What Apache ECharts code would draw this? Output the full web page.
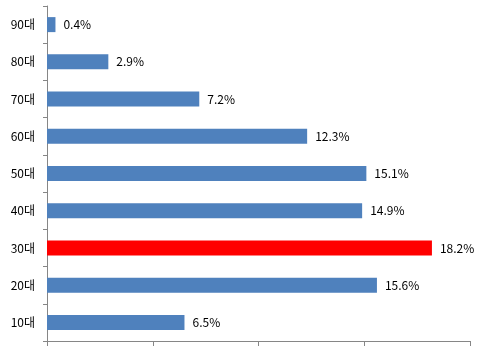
<!DOCTYPE html>
<html><head><meta charset="utf-8">
<script src="https://cdn.jsdelivr.net/npm/echarts@6/dist/echarts.min.js"></script>
<style>html,body{margin:0;padding:0;background:#fff}#c{width:496px;height:346px}</style>
</head><body><div id="c"></div>
<script>
const categories = ['10대','20대','30대','40대','50대','60대','70대','80대','90대'];
const values = [6.5, 15.6, 18.2, 14.9, 15.1, 12.3, 7.2, 2.9, 0.4];
const highlight = '30대';
const xTicks = [0, 5, 10, 15, 20];

const chart = echarts.init(document.getElementById('c'), null, {renderer:'canvas'});
const font = '"Noto Sans CJK KR", "Noto Sans", sans-serif';
chart.setOption({
  animation: false,
  grid: {left: 47, right: 26, top: 6, bottom: 5, containLabel: false},
  xAxis: {
    type: 'value', min: xTicks[0], max: xTicks[xTicks.length-1], interval: xTicks[1]-xTicks[0],
    axisLine: {show: true, lineStyle: {color: '#868686', width: 1}},
    axisTick: {show: true, inside: false, length: 5, lineStyle: {color: '#868686'}},
    axisLabel: {show: false},
    splitLine: {show: false}
  },
  yAxis: {
    type: 'category', data: categories,
    axisLine: {show: true, lineStyle: {color: '#868686', width: 1}},
    axisTick: {show: true, length: 4, lineStyle: {color: '#868686'}},
    axisLabel: {color: '#000', fontSize: 12, fontFamily: font, margin: 12}
  },
  series: [{
    type: 'bar', barWidth: 15,
    data: values.map((v, i) => ({value: v, itemStyle: {color: categories[i] === highlight ? '#FF0000' : '#4F81BD'}})),
    label: {show: true, position: 'right', distance: 8, color: '#000', fontSize: 12, fontFamily: font,
      formatter: p => p.value.toFixed(1) + '%'}
  }]
});
</script></body></html>
